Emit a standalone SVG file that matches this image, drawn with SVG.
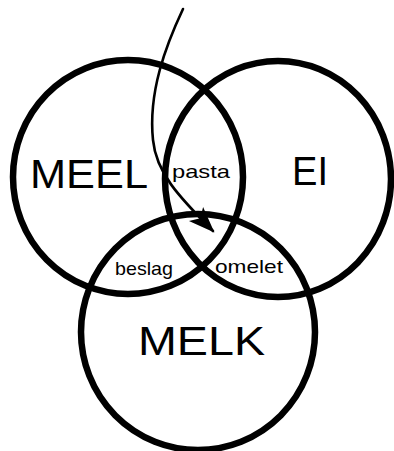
<svg xmlns="http://www.w3.org/2000/svg" width="394" height="451" viewBox="0 0 394 451">
<defs>
<style>
.set{fill:none;stroke:#000;stroke-width:6.5}
.lbl{font-family:"Liberation Sans",Arial,sans-serif;fill:#000}
.big{font-size:40px}
.small{font-size:19px}
.arrow{fill:none;stroke:#000;stroke-width:2.6;stroke-linecap:round}
</style>
<marker id="head" markerUnits="userSpaceOnUse" markerWidth="30" markerHeight="24" refX="24" refY="10" orient="auto" overflow="visible">
<path d="M0,0 L26,10 L0,20 L6,10 Z" fill="#000"/>
</marker>
</defs>
<rect width="394" height="451" fill="#fff"/>
<g id="meel">
<ellipse class="set" cx="128" cy="177" rx="115" ry="117"/>
<text class="lbl big" x="30" y="188" textLength="118" lengthAdjust="spacingAndGlyphs">MEEL</text>
</g>
<g id="ei">
<ellipse class="set" cx="278" cy="179" rx="113" ry="118"/>
<text class="lbl big" x="292" y="185" textLength="36" lengthAdjust="spacingAndGlyphs">EI</text>
</g>
<g id="melk">
<ellipse class="set" cx="198" cy="332" rx="117" ry="118"/>
<text class="lbl big" x="138" y="355" textLength="127" lengthAdjust="spacingAndGlyphs">MELK</text>
</g>
<g id="pasta">
<text class="lbl small" x="172" y="178" textLength="58" lengthAdjust="spacingAndGlyphs">pasta</text>
</g>
<g id="beslag">
<text class="lbl small" x="115" y="275" textLength="58" lengthAdjust="spacingAndGlyphs">beslag</text>
</g>
<g id="omelet">
<text class="lbl small" x="215" y="273" textLength="68" lengthAdjust="spacingAndGlyphs">omelet</text>
</g>
<g id="connectors">
<path class="arrow" d="M183,9 C166,45 148,92 153,140 C156,172 178,196 213,231" marker-end="url(#head)"/>
</g>
</svg>
